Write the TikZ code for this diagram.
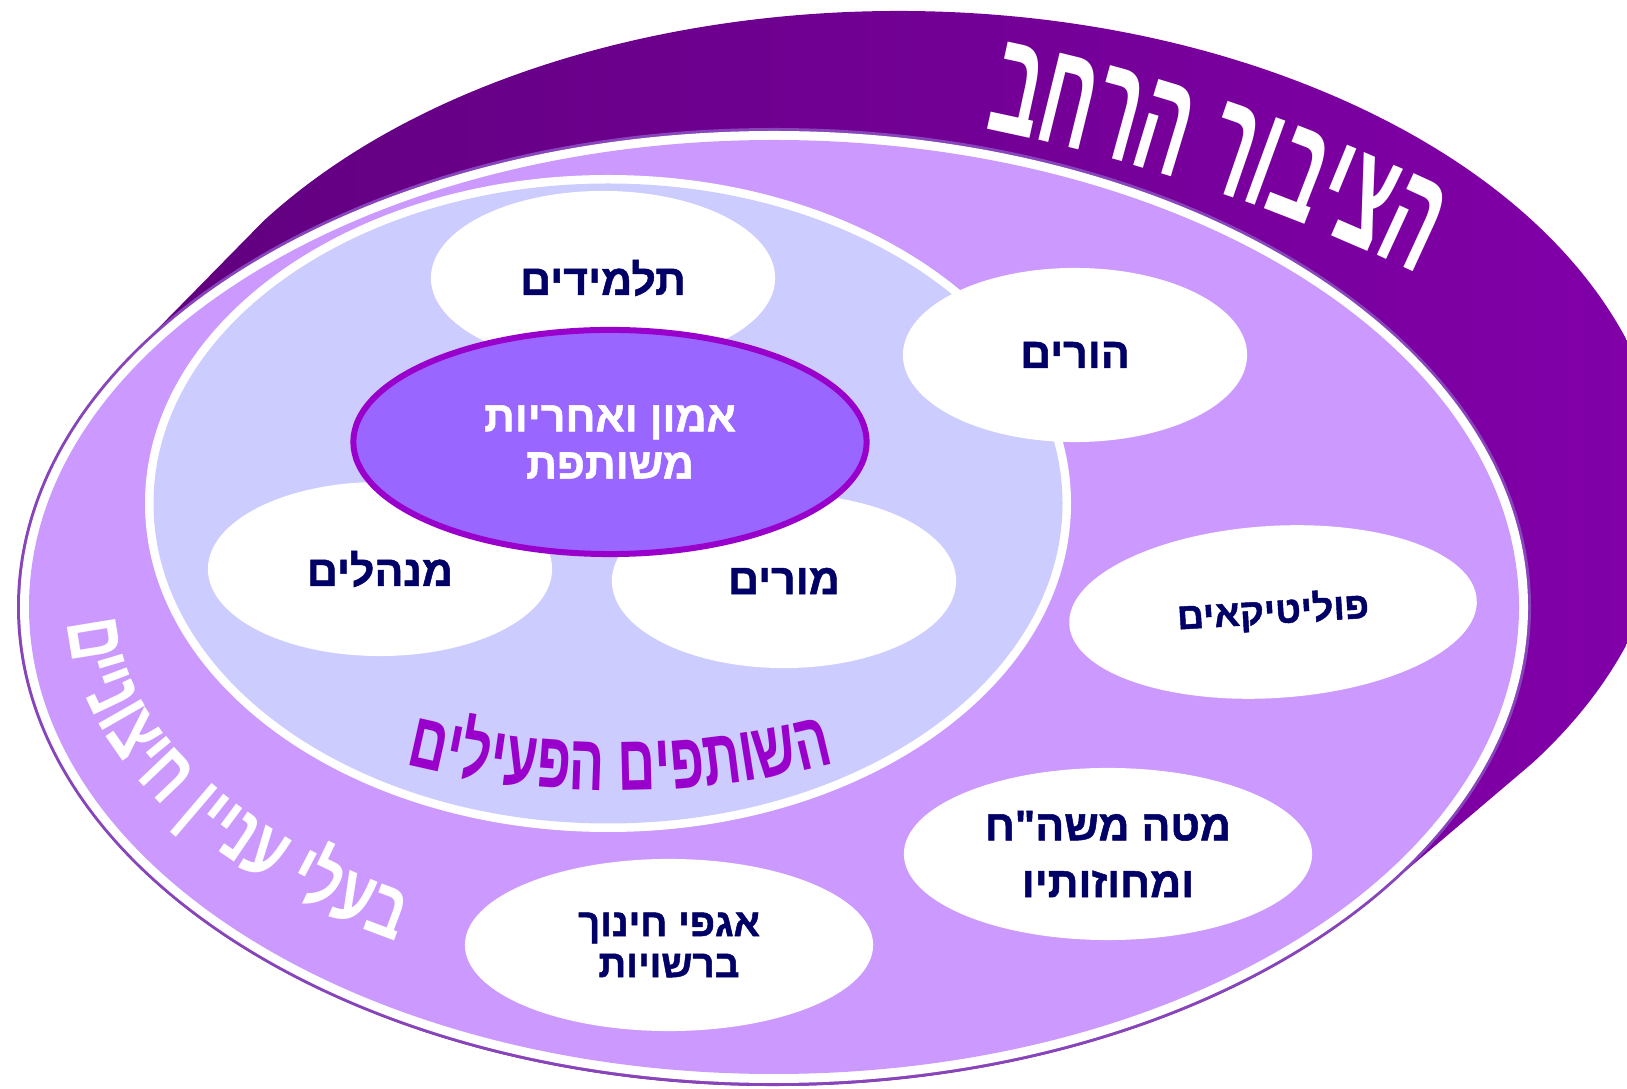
\documentclass[tikz,border=0pt]{standalone}
\usepackage{fontspec}
\setmainfont{Liberation Sans}
\newfontfamily\hebfont[Script=Hebrew,BoldFeatures={FakeBold=1.2}]{Liberation Sans}
\newfontfamily\titlefont[Script=Hebrew,FakeStretch=0.52]{Liberation Sans}
\newfontfamily\ringfont[Script=Hebrew,FakeStretch=0.72]{Liberation Sans}
\newfontfamily\partfont[Script=Hebrew,FakeStretch=0.66]{Liberation Sans}
\TeXXeTstate=1
\usetikzlibrary{shapes.geometric,calc,decorations.text}
\definecolor{bandA}{HTML}{5C0078}
\definecolor{bandB}{HTML}{8400AC}
\definecolor{rimcol}{HTML}{8844BB}
\definecolor{ringfill}{HTML}{CC99FF}
\definecolor{corefill}{HTML}{CCCCFF}
\definecolor{hubfill}{HTML}{9966FF}
\definecolor{hubedge}{HTML}{9900CC}
\definecolor{navy}{HTML}{000066}

\begin{document}
\begin{tikzpicture}[
  x=0.01cm, y=0.01cm,
  stake/.style={ellipse, fill=white, inner sep=0pt, align=center, text=navy,
                font=\hebfont\bfseries\fontsize{12.2}{14}\selectfont,
                minimum width=3.44cm, minimum height=1.74cm},
  widestake/.style={stake, minimum width=4.08cm, minimum height=1.72cm},
  hub/.style={ellipse, fill=hubfill, draw=hubedge, line width=0.06cm,
              inner sep=0pt, align=center, text=white,
              font=\hebfont\bfseries\fontsize{12.2}{13.4}\selectfont,
              minimum width=5.13cm, minimum height=2.24cm},
]
\useasboundingbox (0,0) rectangle (1627,-1089);
\clip (0,0) rectangle (1627,-1089);

% ─── wider public: extruded back band ──────────────────────────────────────
\coordinate (fc) at (774,-607);
\coordinate (bc) at (898,-492);
\shade[left color=bandA, right color=bandB]
  ($(fc)+(145.7:756 and 479)$) -- ($(bc)+(145.7:768 and 481)$)
  arc[start angle=145.7, end angle=-34.3, x radius=768, y radius=481]
  -- ($(fc)+(-34.3:756 and 479)$)
  arc[start angle=-34.3, end angle=-214.3, x radius=756, y radius=479] -- cycle;

% ─── external stakeholders ring ────────────────────────────────────────────
\fill[rimcol] (fc) ellipse [x radius=757, y radius=479];
\fill[white] (fc) ellipse [x radius=754, y radius=476];
\fill[ringfill] (fc) ellipse [x radius=745, y radius=467];

% ─── active partners (inner) ───────────────────────────────────────────────
\coordinate (ic) at (608,-503.5);
\fill[white] (ic) ellipse [x radius=463, y radius=328.5];
\fill[corefill] (ic) ellipse [x radius=454.5, y radius=320];

\node[stake] (pupils) at (603,-278) {\beginR תלמידים\endR};
\node[stake] (parents) at (1075,-355) {\beginR הורים\endR};
\node[stake] (heads) at (380,-569) {\beginR מנהלים\endR};
\node[stake] (teachers) at (784,-581) {\beginR מורים\endR};
\node[widestake, rotate=3.5, font=\hebfont\bfseries\fontsize{10.6}{13}\selectfont]
  (politicians) at (1273,-612) {\beginR פוליטיקאים\endR};
\node[widestake, font=\hebfont\bfseries\fontsize{12.2}{16.2}\selectfont] (ministry)
  at (1108,-854) {\beginR מטה משה"ח\endR\\\beginR ומחוזותיו\endR};
\node[widestake, font=\hebfont\bfseries\fontsize{11}{11.7}\selectfont] (councils)
  at (669,-945) {\beginR אגפי חינוך\endR\\\beginR ברשויות\endR};

\node[hub] (trust) at (610,-442) {\beginR אמון ואחריות\endR\\\beginR משותפת\endR};

% ─── curved titles ─────────────────────────────────────────────────────────
\path[decorate, decoration={text along path, text align=center,
  text={|\titlefont\bfseries\fontsize{42}{42}\selectfont\color{white}|בחרה רוביצה}}]
  (945,-121) .. controls (1130,-155) and (1290,-210) .. (1455,-292);

\path[decorate, decoration={text along path, text align=center,
  text={|\ringfont\bfseries\fontsize{23}{23}\selectfont\color{white}|םיינוציח ןיינע ילעב}}]
  ($(fc)+(172:707 and 395)$)
  arc[start angle=172, end angle=244, x radius=707, y radius=395];

\path[decorate, decoration={text along path, text align=center,
  text={|\partfont\bfseries\fontsize{22.5}{22.5}\selectfont\color{hubedge}|םיליעפה םיפתושה}}]
  (380,-758) .. controls (540,-802) and (700,-802) .. (860,-756);

\end{tikzpicture}
\end{document}
